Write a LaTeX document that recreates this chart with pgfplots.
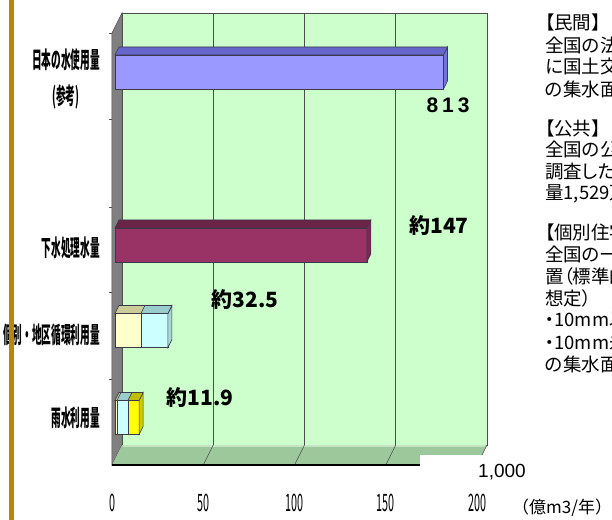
\documentclass[border=0pt]{standalone}
\usepackage{pgfplots}
\pgfplotsset{compat=1.18}
\usepackage{graphicx}
\usepackage{fontspec}
\setmainfont{Liberation Sans}
\newfontfamily\jp{Noto Sans CJK JP}
\newfontfamily\jpp{Noto Sans CJK JP}[RawFeature=+palt]
\newfontfamily\lib{Liberation Sans}

\definecolor{wallc}{HTML}{CCFFCC}
\definecolor{floorc}{HTML}{9CC89C}
\definecolor{floorl}{HTML}{C4E4C4}
\definecolor{sidewall}{HTML}{808080}
\definecolor{gridc}{HTML}{4D4D4D}
\definecolor{b1f}{HTML}{9999FF}
\definecolor{b1t}{HTML}{6666CC}
\definecolor{b1s}{HTML}{7373D9}
\definecolor{b2f}{HTML}{993366}
\definecolor{b2t}{HTML}{6B2347}
\definecolor{b2s}{HTML}{7A2852}
\definecolor{crf}{HTML}{FFFFCC}
\definecolor{crt}{HTML}{CCCC99}
\definecolor{cyf}{HTML}{CCFFFF}
\definecolor{cyt}{HTML}{99CCCC}
\definecolor{cys}{HTML}{A3D9D9}
\definecolor{yef}{HTML}{FFFF00}
\definecolor{yet}{HTML}{BFBF00}
\definecolor{yes}{HTML}{CCCC00}
\definecolor{goldc}{HTML}{B8860B}
\definecolor{bord}{HTML}{3A3A4A}

\newcommand\sq[1]{\scalebox{0.42}[1]{\jp\bfseries\fontsize{23}{26}\selectfont #1}}
\newcommand\sn[1]{\scalebox{0.45}[1]{\jp\fontsize{24}{24}\selectfont #1}}

\begin{document}
\begin{tikzpicture}
\begin{axis}[
  x=1.825pt, y=1pt,
  xmin=0, xmax=200, ymin=0, ymax=432,
  clip=false,
  axis line style={draw=none},
  major tick length=0pt,
  xtick={0,50,100,150,200},
  xticklabels={\sn{0},\sn{50},\sn{100},\sn{150},\sn{200}},
  xticklabel style={anchor=center, inner sep=0pt, xshift=-3pt, yshift=-38pt},
  ytick={47,130,217,384.5},
  yticklabels={\sq{雨水利用量},\sq{個別・地区循環利用量},\sq{下水処理水量},\sq{\begin{tabular}{@{}c@{}}日本の水使用量\\[9pt](参考)\end{tabular}}},
  yticklabel style={anchor=east, inner sep=0pt, xshift=-15pt},
]
% back wall, side wall, floor
\fill[wallc, draw=gridc, line width=0.6pt] (axis cs:3.836,20) rectangle (axis cs:203.836,452);
\fill[sidewall, draw=gridc, line width=0.5pt] (axis cs:-1.644,0) -- (axis cs:-1.644,432) -- (axis cs:3.836,452) -- (axis cs:3.836,20) -- cycle;
\fill[floorc] (axis cs:-1.644,0) -- (axis cs:3.836,20) -- (axis cs:203.836,20) -- (axis cs:198.356,0) -- cycle;
\draw[floorl, line width=1.2pt] (axis cs:4.5,19) -- (axis cs:203,19);
\draw[gridc, line width=0.6pt] (axis cs:203.836,20) -- (axis cs:198.356,0);
\draw[gridc, line width=0.7pt] (axis cs:53.836,20) -- (axis cs:53.836,452);
\draw[gridc, line width=0.7pt] (axis cs:103.836,20) -- (axis cs:103.836,452);
\draw[gridc, line width=0.7pt] (axis cs:153.836,20) -- (axis cs:153.836,452);
\draw[gridc, line width=0.6pt] (axis cs:53.836,20) -- (axis cs:48.356,0);
\draw[gridc, line width=0.6pt] (axis cs:103.836,20) -- (axis cs:98.356,0);
\draw[gridc, line width=0.6pt] (axis cs:153.836,20) -- (axis cs:148.356,0);
\draw[gridc, line width=0.8pt] (axis cs:-1.644,86) -- (axis cs:-3.3,86);
\draw[gridc, line width=0.8pt] (axis cs:-1.644,173) -- (axis cs:-3.3,173);
\draw[gridc, line width=0.8pt] (axis cs:-1.644,258) -- (axis cs:-3.3,258);
\draw[gridc, line width=0.8pt] (axis cs:-1.644,346) -- (axis cs:-3.3,346);
\draw[gridc, line width=0.8pt] (axis cs:-1.644,432) -- (axis cs:-3.3,432);
\draw[black, line width=2pt] (axis cs:-1.644,0) -- (axis cs:167.12,0);
\fill[white] (axis cs:167.12,10) rectangle (axis cs:215,-25);

% bar 1: Japan water use (813, drawn on the broken axis)
\addplot[xbar, bar width=34, bar shift=0pt, fill=b1f, draw=bord, line width=0.6pt] coordinates {(180,393)};
\fill[b1s, draw=bord, line width=0.6pt] (axis cs:180,376) -- (axis cs:182.19,384) -- (axis cs:182.19,418) -- (axis cs:180,410) -- cycle;
\fill[b1t, draw=bord, line width=0.6pt] (axis cs:0,410) -- (axis cs:180,410) -- (axis cs:182.19,418) -- (axis cs:2.19,418) -- cycle;
% bar 2: treated sewage
\addplot[xbar, bar width=34, bar shift=0pt, fill=b2f, draw=bord, line width=0.6pt] coordinates {(138,220)};
\fill[b2s, draw=bord, line width=0.6pt] (axis cs:138,203) -- (axis cs:140.19,211) -- (axis cs:140.19,245) -- (axis cs:138,237) -- cycle;
\fill[b2t, draw=bord, line width=0.6pt] (axis cs:0,237) -- (axis cs:138,237) -- (axis cs:140.19,245) -- (axis cs:2.19,245) -- cycle;
% bar 3: individual / district recycling (cumulative ends 14.2, 29.0)
\addplot[xbar, bar width=34, bar shift=0pt, fill=cyf, draw=bord, line width=0.6pt] coordinates {(29.0,134.5)};
\fill[cys, draw=bord, line width=0.6pt] (axis cs:29,117.5) -- (axis cs:31.19,125.5) -- (axis cs:31.19,159.5) -- (axis cs:29,151.5) -- cycle;
\fill[cyt, draw=bord, line width=0.6pt] (axis cs:0,151.5) -- (axis cs:29,151.5) -- (axis cs:31.19,159.5) -- (axis cs:2.19,159.5) -- cycle;
\addplot[xbar, bar width=34, bar shift=0pt, fill=crf, draw=bord, line width=0.6pt] coordinates {(14.2,134.5)};
\fill[crt, draw=bord, line width=0.6pt] (axis cs:0,151.5) -- (axis cs:14.2,151.5) -- (axis cs:16.39,159.5) -- (axis cs:2.19,159.5) -- cycle;
% bar 4: rainwater use (cumulative ends 1.1, 7.1, 13.2)
\addplot[xbar, bar width=34, bar shift=0pt, fill=yef, draw=bord, line width=0.6pt] coordinates {(13.2,47.5)};
\fill[yes, draw=bord, line width=0.6pt] (axis cs:13.2,30.5) -- (axis cs:15.39,38.5) -- (axis cs:15.39,72.5) -- (axis cs:13.2,64.5) -- cycle;
\fill[yet, draw=bord, line width=0.6pt] (axis cs:0,64.5) -- (axis cs:13.2,64.5) -- (axis cs:15.39,72.5) -- (axis cs:2.19,72.5) -- cycle;
\addplot[xbar, bar width=34, bar shift=0pt, fill=cyf, draw=bord, line width=0.6pt] coordinates {(7.1,47.5)};
\fill[cyt, draw=bord, line width=0.6pt] (axis cs:0,64.5) -- (axis cs:7.1,64.5) -- (axis cs:9.29,72.5) -- (axis cs:2.19,72.5) -- cycle;
\addplot[xbar, bar width=34, bar shift=0pt, fill=crf, draw=bord, line width=0.6pt] coordinates {(1.1,47.5)};
\fill[crt, draw=bord, line width=0.6pt] (axis cs:0,64.5) -- (axis cs:1.1,64.5) -- (axis cs:3.29,72.5) -- (axis cs:2.19,72.5) -- cycle;

% value labels
\node[font=\lib\bfseries\fontsize{21}{21}\selectfont] at (axis cs:182.5,360) {8\hspace{4pt}1\hspace{4pt}3};
\node[font=\jp\bfseries\fontsize{21}{21}\selectfont] at (axis cs:177.5,239) {約147};
\node[font=\jp\bfseries\fontsize{21}{21}\selectfont] at (axis cs:71.2,165) {約32.5};
\node[font=\jp\bfseries\fontsize{21}{21}\selectfont] at (axis cs:46.6,67) {約11.9};
\end{axis}

\begin{scope}[shift={(-115pt,465pt)}, x=1pt, y=-1pt]
\fill[goldc] (9.3,-2) rectangle (14,521);
\node[font=\lib\fontsize{19}{19}\selectfont] at (502,472) {1,000};
\node[anchor=west, inner sep=0pt, font=\jp\fontsize{17}{17}\selectfont] at (512,508) {（億m3/年）};
\node[anchor=west, inner sep=0pt, font=\jpp\fontsize{18.5}{20}\selectfont] at (545,22) {【民間】};
\node[anchor=west, inner sep=0pt, font=\jpp\fontsize{18.5}{20}\selectfont] at (545,45) {全国の法人建物};
\node[anchor=west, inner sep=0pt, font=\jpp\fontsize{18.5}{20}\selectfont] at (545,67) {に国土交通省};
\node[anchor=west, inner sep=0pt, font=\jpp\fontsize{18.5}{20}\selectfont] at (545,89) {の集水面積};
\node[anchor=west, inner sep=0pt, font=\jpp\fontsize{18.5}{20}\selectfont] at (545,128) {【公共】};
\node[anchor=west, inner sep=0pt, font=\jpp\fontsize{18.5}{20}\selectfont] at (545,150) {全国の公共施設};
\node[anchor=west, inner sep=0pt, font=\jpp\fontsize{18.5}{20}\selectfont] at (545,172) {調査した施設};
\node[anchor=west, inner sep=0pt, font=\jpp\fontsize{18.5}{20}\selectfont] at (545,194) {量1,529万};
\node[anchor=west, inner sep=0pt, font=\jpp\fontsize{18.5}{20}\selectfont] at (545,232) {【個別住宅】};
\node[anchor=west, inner sep=0pt, font=\jpp\fontsize{18.5}{20}\selectfont] at (545,254) {全国の一戸建};
\node[anchor=west, inner sep=0pt, font=\jpp\fontsize{18.5}{20}\selectfont] at (545,276) {置（標準的};
\node[anchor=west, inner sep=0pt, font=\jpp\fontsize{18.5}{20}\selectfont] at (545,298) {想定）};
\node[anchor=west, inner sep=0pt, font=\jpp\fontsize{18.5}{20}\selectfont] at (545,320) {・10mm以上};
\node[anchor=west, inner sep=0pt, font=\jpp\fontsize{18.5}{20}\selectfont] at (545,342) {・10mm未満};
\node[anchor=west, inner sep=0pt, font=\jpp\fontsize{18.5}{20}\selectfont] at (545,364) {の集水面積};
\pgfresetboundingbox
\path[use as bounding box] (0,0) rectangle (612,519);
\end{scope}
\end{tikzpicture}
\end{document}
